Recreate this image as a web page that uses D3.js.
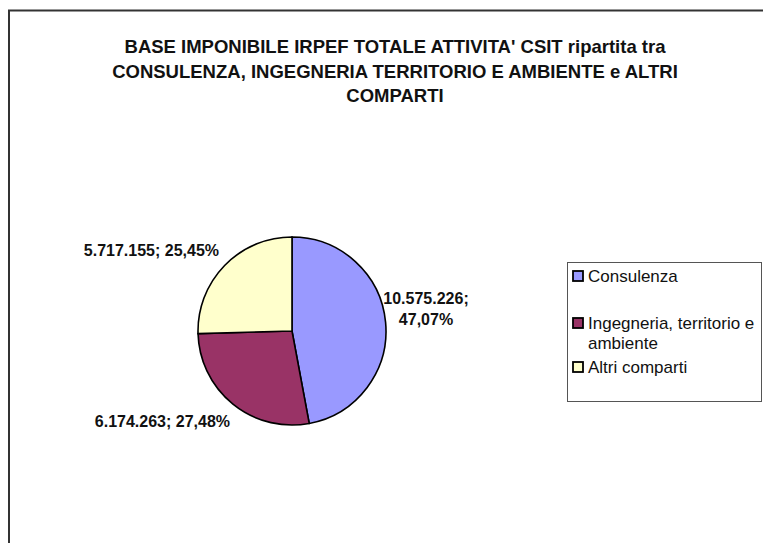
<!DOCTYPE html>
<html>
<head>
<meta charset="utf-8">
<script src="https://cdn.jsdelivr.net/npm/d3@7"></script>
<style>
html,body{margin:0;padding:0;background:#fff;}
svg{display:block;}
text{font-family:"Liberation Sans",Arial,sans-serif;}
</style>
</head>
<body>
<svg id="chart" width="763" height="543"></svg>
<script>
const titleLines = ["BASE IMPONIBILE IRPEF TOTALE ATTIVITA' CSIT ripartita tra",
                    "CONSULENZA, INGEGNERIA TERRITORIO E AMBIENTE e ALTRI",
                    "COMPARTI"];
const categories = ["Consulenza", "Ingegneria, territorio e ambiente", "Altri comparti"];
const legendLines = [["Consulenza"], ["Ingegneria, territorio e", "ambiente"], ["Altri comparti"]];
const values = [10575226, 6174263, 5717155];
const valueLabels = ["10.575.226", "6.174.263", "5.717.155"];
const percentLabels = ["47,07%", "27,48%", "25,45%"];
const colors = ["#9999FF", "#993366", "#FFFFCC"];

const svg = d3.select("#chart");

// outer frame
svg.append("rect").attr("x", 9).attr("y", 10.5).attr("width", 800).attr("height", 600)
  .attr("fill", "#fff").attr("stroke", "#333").attr("stroke-width", 2);

// title
const title = svg.append("text").attr("text-anchor", "middle")
  .attr("font-size", 18.5).attr("font-weight", "bold").attr("fill", "#111");
titleLines.forEach((t, i) => {
  title.append("tspan").attr("x", 395).attr("y", 53 + i * 24.5).text(t);
});

// pie
const cx = 292, cy = 331, r = 94;
const pie = d3.pie().sort(null).value(d => d)(values);
const arc = d3.arc().innerRadius(0).outerRadius(r);
const g = svg.append("g").attr("transform", `translate(${cx},${cy})`);
g.selectAll("path").data(pie).join("path")
  .attr("d", arc)
  .attr("fill", (d, i) => colors[i])
  .attr("stroke", "#000").attr("stroke-width", 1.6);

// data labels
const labelG = svg.append("g").attr("font-size", 16).attr("font-weight", "bold").attr("fill", "#111");
const lab0 = labelG.append("text").attr("text-anchor", "middle");
lab0.append("tspan").attr("x", 426).attr("y", 304).text(valueLabels[0] + ";");
lab0.append("tspan").attr("x", 426).attr("y", 325).text(percentLabels[0]);
labelG.append("text").attr("text-anchor", "end").attr("x", 219).attr("y", 256)
  .text(valueLabels[2] + "; " + percentLabels[2]);
labelG.append("text").attr("text-anchor", "end").attr("x", 230).attr("y", 427)
  .text(valueLabels[1] + "; " + percentLabels[1]);

// legend
svg.append("rect").attr("x", 567.5).attr("y", 262.5).attr("width", 194).attr("height", 139)
  .attr("fill", "#fff").attr("stroke", "#555").attr("stroke-width", 1);
const legY = [276, 323, 367];
const leg = svg.append("g");
categories.forEach((c, i) => {
  leg.append("rect").attr("x", 573).attr("y", legY[i] - 5).attr("width", 10).attr("height", 10)
    .attr("fill", colors[i]).attr("stroke", "#000").attr("stroke-width", 1.8);
  legendLines[i].forEach((t, j) => {
    leg.append("text").attr("x", 588).attr("y", legY[i] + 6 + j * 20)
      .attr("font-size", 17).attr("fill", "#111").text(t);
  });
});
</script>
</body>
</html>
